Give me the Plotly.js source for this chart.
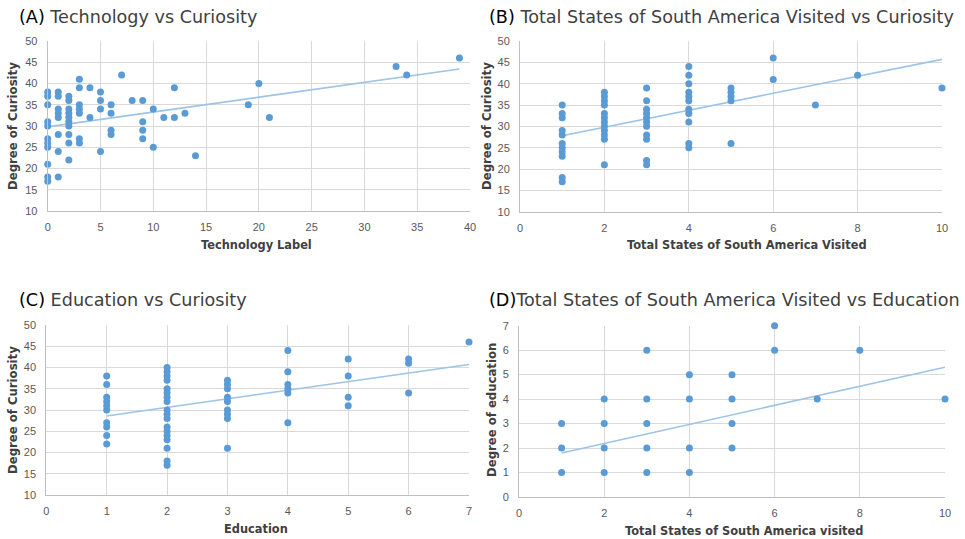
<!DOCTYPE html>
<html><head><meta charset="utf-8">
<script src="https://cdn.plot.ly/plotly-3.0.1.min.js"></script>
<style>html,body{margin:0;padding:0;background:#fff}#chart{width:965px;height:539px}</style>
</head><body><div id="chart"></div>
<script>
// Panel A: Technology Label vs Degree of Curiosity
const techX = [0,0,0,0,0,0,0,0,0,0,0, 1,1,1,1,1,1,1,1, 2,2,2,2,2,2,2,2,2,2, 3,3,3,3,3,3,3, 4,4, 5,5,5,5, 6,6,6,6, 7, 8, 9,9,9,9, 10,10, 11, 12,12, 13, 14, 19, 20, 21, 33, 34, 39];
const techY = [38,37,35,31,30,27,26,25,21,18,17, 38,37,34,33,32,28,24,18, 37,36,34,33,32,31,30,28,26,22, 41,39,35,34,33,27,26, 39,32, 38,36,34,24, 35,33,29,28, 42, 36, 36,31,29,27, 34,25, 32, 39,32, 33, 23, 35, 40, 32, 44, 42, 46];
const techTrendX = [0, 39];
const techTrendY = [29.8, 43.4];

// Panel B: Total States of South America Visited vs Degree of Curiosity
const statesX = [1,1,1,1,1,1,1,1,1,1,1, 2,2,2,2,2,2,2,2,2,2,2,2, 3,3,3,3,3,3,3,3,3,3,3, 4,4,4,4,4,4,4,4,4,4,4, 5,5,5,5,5, 6,6, 7, 8, 10];
const statesY = [35,33,32,29,28,26,25,24,23,18,17, 38,37,36,35,33,32,31,30,29,28,27,21, 39,36,34,33,32,31,30,28,27,22,21, 44,42,40,38,37,36,34,33,31,26,25, 39,38,37,36,26, 46,41, 35, 42, 39];
const statesTrendX = [1, 10];
const statesTrendY = [27.8, 45.7];

// Panel C: Education vs Degree of Curiosity
const eduX = [1,1,1,1,1,1,1,1,1,1, 2,2,2,2,2,2,2,2,2,2,2,2,2,2,2,2,2,2, 3,3,3,3,3,3,3,3,3, 4,4,4,4,4,4, 5,5,5,5, 6,6,6, 7];
const eduY = [38,36,33,32,31,30,27,26,24,22, 40,39,38,37,35,34,33,32,30,29,28,26,25,24,23,21,18,17, 37,36,35,33,32,30,29,28,21, 44,39,36,35,34,27, 42,38,33,31, 42,41,34, 46];
const eduTrendX = [1, 7];
const eduTrendY = [28.6, 40.7];

// Panel D: Total States of South America visited vs Degree of education
const stEduX = [1,1,1, 2,2,2,2, 3,3,3,3,3, 4,4,4,4, 5,5,5,5, 6,6, 7, 8, 10];
const stEduY = [3,2,1, 4,3,2,1, 6,4,3,2,1, 5,4,2,1, 5,4,3,2, 7,6, 4, 6, 4];
const stEduTrendX = [1, 10];
const stEduTrendY = [1.8, 5.3];

const titles = ["Technology vs Curiosity", "Total States of South America Visited vs Curiosity", "Education vs Curiosity", "Total States of South America Visited vs Education"];
const labels = ["(A)", "(B)", "(C)", "(D)"];
const xTitles = ["Technology Label", "Total States of South America Visited", "Education", "Total States of South America visited"];
const yTitles = ["Degree of Curiosity", "Degree of Curiosity", "Degree of Curiosity", "Degree of education"];

const dotColor = '#5b9bd5', trendColor = '#9dc3e6';
const sets = [[techX,techY,techTrendX,techTrendY],[statesX,statesY,statesTrendX,statesTrendY],[eduX,eduY,eduTrendX,eduTrendY],[stEduX,stEduY,stEduTrendX,stEduTrendY]];
const data = [];
sets.forEach((s,i)=>{
  const xa = i===0?'x':'x'+(i+1), ya = i===0?'y':'y'+(i+1);
  data.push({x:s[2],y:s[3],type:'scatter',mode:'lines',xaxis:xa,yaxis:ya,
    line:{color:trendColor,width:1.6},hoverinfo:'skip'});
  data.push({x:s[0],y:s[1],type:'scatter',mode:'markers',xaxis:xa,yaxis:ya,cliponaxis:false,
    marker:{color:dotColor,size:7},hoverinfo:'x+y'});
});

const W=965,H=539;
const boxes = [ // [left, right, top, bottom] in pixels
  [47.7,470,41,211],
  [520,942,41,211.7],
  [46.3,469,325,495],
  [519,945,325.7,497]
];
const xr = [[0,40],[0,10],[0,7],[0,10]], xd=[5,2,1,2];
const yr = [[10,50],[10,50],[10,50],[0,7]], yd=[5,5,5,1];
const tickFont = {family:'Liberation Sans, Arial, sans-serif', size:11, color:'#595959'};
const layout = {width:W,height:H,margin:{l:0,r:0,t:0,b:0},showlegend:false,
  paper_bgcolor:'#fff',plot_bgcolor:'#fff',annotations:[]};
boxes.forEach((b,i)=>{
  const sx = i===0?'xaxis':'xaxis'+(i+1), sy = i===0?'yaxis':'yaxis'+(i+1);
  const xa = i===0?'y':'y'+(i+1), yaA = i===0?'x':'x'+(i+1);
  layout[sx] = {domain:[b[0]/W,b[1]/W],range:xr[i],dtick:xd[i],tick0:0,anchor:xa,
    showgrid:true,gridcolor:'#d9d9d9',gridwidth:1,zeroline:false,showline:true,linecolor:'#bfbfbf',linewidth:1,
    ticks:'',tickfont:tickFont,ticklabelstandoff:6,fixedrange:true};
  layout[sy] = {domain:[1-b[3]/H,1-b[2]/H],range:yr[i],dtick:yd[i],tick0:0,anchor:yaA,
    showgrid:true,gridcolor:'#d9d9d9',gridwidth:1,zeroline:false,showline:true,linecolor:'#bfbfbf',linewidth:1,
    ticks:'',tickfont:tickFont,ticklabelstandoff:7,fixedrange:true};
});
const titlePos = [[17,17],[487,17],[17,300],[487,300]];
const titleGap = [" "," "," ",""];
titlePos.forEach((p,i)=>{
  layout.annotations.push({xref:'paper',yref:'paper',x:p[0]/W,y:1-p[1]/H,xanchor:'left',yanchor:'middle',showarrow:false,
    text:'<span style="color:#000">'+labels[i]+'</span>'+titleGap[i]+titles[i],
    font:{family:'DejaVu Sans, sans-serif',size:17.6,color:'#404040'}});
});
const xtPos = [[256,245],[747,245],[256,529],[744,531]];
xtPos.forEach((p,i)=>{
  layout.annotations.push({xref:'paper',yref:'paper',x:p[0]/W,y:1-p[1]/H,xanchor:'center',yanchor:'middle',showarrow:false,
    text:'<b>'+xTitles[i]+'</b>',font:{family:'DejaVu Sans, sans-serif',size:11.4,color:'#404040'}});
});
const ytPos = [[13,126],[487,126],[12,410],[491,410]];
ytPos.forEach((p,i)=>{
  layout.annotations.push({xref:'paper',yref:'paper',x:p[0]/W,y:1-p[1]/H,xanchor:'center',yanchor:'middle',showarrow:false,textangle:-90,
    text:'<b>'+yTitles[i]+'</b>',font:{family:'Liberation Sans Narrow, DejaVu Sans Condensed, Liberation Sans, sans-serif',size:13,color:'#404040'}});
});
Plotly.newPlot('chart',data,layout,{displayModeBar:false,staticPlot:true});
</script></body></html>
